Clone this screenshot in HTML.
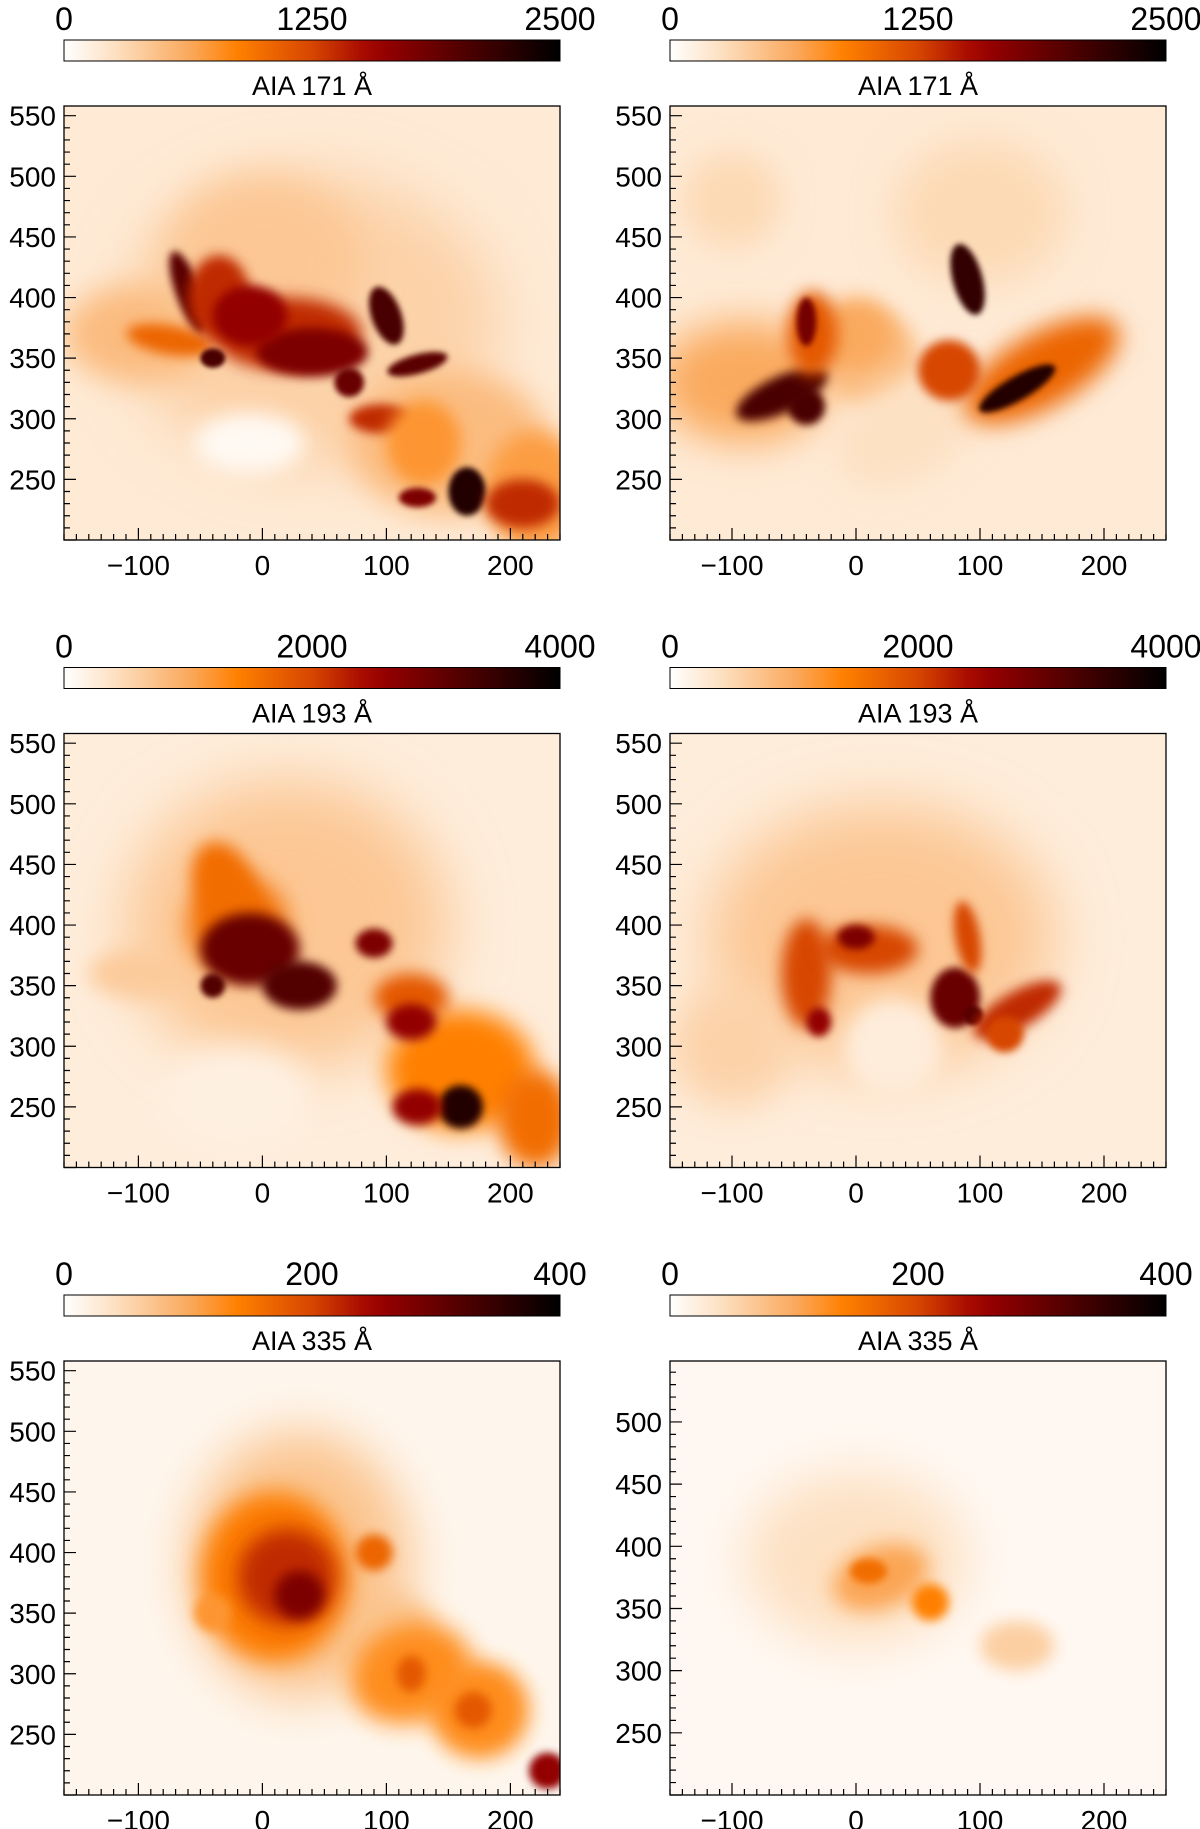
<!DOCTYPE html>
<html><head><meta charset="utf-8">
<style>
html,body{margin:0;padding:0;background:#fff;}
svg{display:block;font-family:"Liberation Sans",sans-serif;}
</style></head>
<body>
<svg id="fig" width="1200" height="1829" viewBox="0 0 1200 1829" xmlns="http://www.w3.org/2000/svg">
<defs id="defs"></defs>
</svg>
<script>
// ---- data ----
const wavelengths = [171, 171, 193, 193, 335, 335];
const colorbarTicks = [[0,1250,2500],[0,1250,2500],[0,2000,4000],[0,2000,4000],[0,200,400],[0,200,400]];
const xTickLabels = [-100, 0, 100, 200];
const yTickLabels = [250, 300, 350, 400, 450, 500, 550];
const xRanges = [[-160,240],[-150,250],[-160,240],[-150,250],[-160,240],[-150,250]];
const yRanges = [[200,558],[200,558],[200,558],[200,558],[200,558],[200,549]];
const bgLevels = [0.07, 0.07, 0.06, 0.06, 0.03, 0.022];
// blobs: [x, y, rx, ry, angle, intensity, blur]
const blobs171L = [[40,380,150,120,0,0.14,30],[-100,370,60,40,0,0.2,15],[0,430,80,70,0,0.17,20],[150,280,80,60,0,0.2,15],[220,240,40,50,0,0.28,10],
 [-10,280,45,25,0,0.02,10],[-75,365,35,12,10,0.42,6],[-60,405,10,35,-20,0.78,4],[-35,400,25,35,0,0.55,6],[20,370,60,30,0,0.55,8],[40,355,45,20,0,0.7,5],
 [-10,385,30,25,0,0.65,5],[100,385,12,25,-20,0.82,3],[125,345,25,8,-15,0.78,3],[95,300,25,12,0,0.55,5],[130,280,30,35,0,0.3,8],[165,240,15,20,0,0.92,3],
 [125,235,15,8,0,0.7,3],[210,230,30,20,0,0.55,6],[-40,350,10,8,0,0.82,2],[70,330,12,12,0,0.75,3]];
const blobs171R = [[-90,330,70,50,0,0.25,20],[100,470,70,60,0,0.12,20],[-100,480,40,40,0,0.12,15],[10,350,40,40,0,0.2,10],[0,370,30,30,0,0.25,10],
 [40,290,60,40,-30,0.1,15],[150,340,70,30,-30,0.42,12],[-60,320,40,15,-25,0.82,5],[-40,310,15,15,0,0.82,4],[-35,370,20,35,0,0.45,8],[-40,380,8,20,0,0.72,3],
 [90,415,12,30,-15,0.88,3],[75,340,25,25,0,0.5,5],[130,325,35,10,-30,0.92,3]];
const blobs193L = [[20,400,130,120,0,0.17,30],[-20,260,60,40,0,0.05,15],[-100,360,40,20,0,0.16,10],[160,280,60,50,0,0.35,12],[220,240,30,40,0,0.4,10],
 [-30,430,25,40,-20,0.4,8],[120,340,30,20,0,0.45,8],[-20,400,40,40,0,0.4,12],[-10,380,40,30,0,0.75,6],[30,350,30,20,0,0.8,5],[-40,350,10,10,0,0.8,3],
 [90,385,15,12,0,0.7,4],[120,320,20,15,0,0.65,5],[160,250,18,18,0,0.92,4],[125,250,20,15,0,0.65,5]];
const blobs193R = [[20,390,140,110,0,0.17,30],[-100,300,50,50,0,0.14,20],[30,300,40,40,0,0.06,10],[-40,360,20,45,0,0.5,8],[-30,320,10,12,0,0.65,4],
 [10,380,40,20,0,0.5,8],[0,390,15,10,0,0.7,4],[80,340,20,25,0,0.75,4],[95,325,8,8,0,0.8,2],[90,390,10,30,-10,0.5,5],[130,330,40,15,-30,0.55,6],[120,310,15,15,0,0.5,4]];
const blobs335L = [[30,390,90,110,0,0.18,25],[80,340,60,30,0,0.18,12],[10,380,60,70,0,0.36,12],[20,380,40,40,0,0.55,10],[30,365,20,20,0,0.7,6],[90,400,15,15,0,0.42,5],
 [120,300,50,40,-20,0.32,12],[120,300,12,15,0,0.45,5],[175,270,40,40,0,0.32,10],[170,270,15,15,0,0.45,5],[230,220,15,15,0,0.65,4],[-40,350,15,15,0,0.3,5]];
const blobs335R = [[0,390,90,70,0,0.1,25],[130,320,30,20,0,0.15,8],[20,375,40,25,-20,0.26,10],[10,380,15,10,0,0.4,4],[60,355,15,15,0,0.35,5]];
const panelBlobs = [blobs171L, blobs171R, blobs193L, blobs193R, blobs335L, blobs335R];

// ---- layout ----
const NS = "http://www.w3.org/2000/svg";
const svg = document.getElementById('fig');
const defs = document.getElementById('defs');
const colLeft = [64, 670], plotW = 496, plotH = 434, rowStep = 627.5, plotTop0 = 106;
const stops = [[0,[255,255,255]],[0.1,[253,225,195]],[0.25,[250,170,95]],[0.35,[255,128,0]],[0.5,[215,70,0]],[0.62,[160,0,0]],[0.78,[90,0,0]],[1,[0,0,0]]];
function cmap(t){
  t=Math.max(0,Math.min(1,t));
  for(let i=1;i<stops.length;i++){ if(t<=stops[i][0]){ const a=stops[i-1],b=stops[i],f=(t-a[0])/(b[0]-a[0]);
    return 'rgb('+a[1].map((v,k)=>Math.round(v+(b[1][k]-v)*f)).join(',')+')'; } }
  return 'rgb(0,0,0)';
}
function mk(tag, attrs, parent){ const e=document.createElementNS(NS,tag); for(const k in attrs) e.setAttribute(k,attrs[k]); (parent||svg).appendChild(e); return e; }
const filters = {};
function blurId(b){ if(!filters[b]){ const f=mk('filter',{id:'bl'+b,x:'-100%',y:'-100%',width:'300%',height:'300%'},defs); mk('feGaussianBlur',{stdDeviation:b},f); filters[b]=1;} return 'bl'+b; }
const grad = mk('linearGradient',{id:'cbgrad',x1:0,x2:1,y1:0,y2:0},defs);
for(let i=0;i<=20;i++) mk('stop',{offset:i/20,'stop-color':cmap(i/20)},grad);

for(let p=0;p<6;p++){
  const col=p%2, row=Math.floor(p/2);
  const L=colLeft[col], T=plotTop0+row*rowStep, R=L+plotW, B=T+plotH;
  const [x0,x1]=xRanges[p], [y0,y1]=yRanges[p];
  const sx=v=>L+(v-x0)/(x1-x0)*plotW, sy=v=>B-(v-y0)/(y1-y0)*plotH;
  const kx=plotW/(x1-x0), ky=plotH/(y1-y0);
  const g=mk('g',{});
  
  
  const cbT=T-66;
  const cb=mk('rect',{x:L,y:cbT,width:plotW,height:21,fill:'url(#cbgrad)',stroke:'#000','stroke-width':1},g);
  
  
  colorbarTicks[p].forEach((v,i)=>{
    const t=mk('text',{x:L+plotW*i/2,y:cbT-10,'font-size':32,'text-anchor':'middle',fill:'#000'},g);
    t.textContent=v;
    
    
  });
  const title=mk('text',{x:L+plotW/2,y:T-11,'font-size':27,'text-anchor':'middle',fill:'#000','xml:space':'preserve'},g);
  title.textContent='AIA  '+wavelengths[p]+'  Å';
  
  
  const cp=mk('clipPath',{id:'cp'+p},defs); mk('rect',{x:L,y:T,width:plotW,height:plotH},cp);
  const img=mk('g',{'clip-path':'url(#cp'+p+')'},g);
  
  
  mk('rect',{x:L,y:T,width:plotW,height:plotH,fill:cmap(bgLevels[p])},img);
  panelBlobs[p].forEach(b=>{
    const [bx,by,rx,ry,ang,val,bl]=b;
    const e=mk('ellipse',{cx:sx(bx),cy:sy(by),rx:rx*kx,ry:ry*ky,fill:cmap(val),filter:'url(#'+blurId(bl)+')',transform:'rotate('+ang+' '+sx(bx)+' '+sy(by)+')'},img);
    
    
  });
  const frame=mk('rect',{x:L,y:T,width:plotW,height:plotH,fill:'none',stroke:'#000','stroke-width':1.3},g);
  
  
  let path='';
  for(let v=Math.ceil(x0/10)*10; v<=x1; v+=10){ const X=sx(v), len=(v%100===0)?12:6; path+='M'+X+' '+B+'v'+(-len); }
  for(let v=Math.ceil(y0/10)*10; v<=y1; v+=10){ const Y=sy(v), len=(v%50===0)?12:6; path+='M'+L+' '+Y+'h'+len; }
  mk('path',{d:path,stroke:'#000','stroke-width':1.2,fill:'none'},g);
  xTickLabels.forEach(v=>{ if(v<x0||v>x1) return;
    const t=mk('text',{x:sx(v),y:B+35,'font-size':28,'text-anchor':'middle',fill:'#000'},g);
    t.textContent=(v<0?'\u2212'+(-v):v);
    
    
  });
  yTickLabels.forEach(v=>{ if(v<y0||v>y1) return;
    const t=mk('text',{x:L-8,y:sy(v)+10,'font-size':28,'text-anchor':'end',fill:'#000'},g);
    t.textContent=v;
    
    
  });
}
</script>
</body></html>
